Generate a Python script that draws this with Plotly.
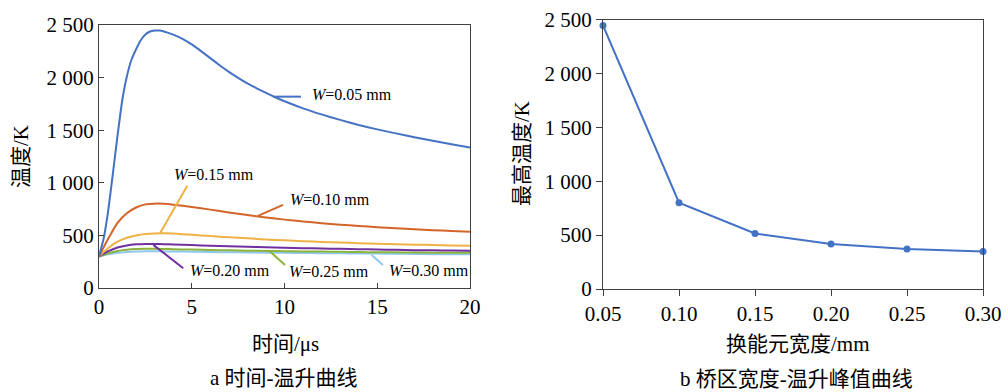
import plotly.graph_objects as go

# ---- data ----
time_us = [0, 0.25, 0.5, 0.75, 1.0, 1.25, 1.5, 1.75, 2.0, 2.25, 2.5, 2.75, 3.0, 3.25, 3.5, 4.0, 4.5, 5.0, 5.5, 6.0,
           6.5, 7.0, 7.5, 8.0, 8.5, 9.0, 9.5, 10, 11, 12, 13, 14, 15, 16, 17, 18, 19, 20]
temp_w005 = [300, 470, 740, 1090, 1450, 1780, 2010, 2170, 2270, 2355, 2410, 2438, 2448, 2447, 2438, 2408, 2368, 2315, 2252, 2185,
             2118, 2055, 1998, 1945, 1898, 1855, 1813, 1775, 1708, 1650, 1598, 1550, 1508, 1470, 1433, 1400, 1367, 1335]

time2_us = [0, 0.5, 1, 1.5, 2, 2.5, 3, 3.5, 4, 5, 6, 7, 8, 9, 10, 11, 12, 13, 14, 15, 16, 17, 18, 19, 20]
temp_w010 = [300, 470, 620, 710, 765, 795, 802, 800, 792, 770, 745, 718, 693, 670, 650, 632, 616, 602, 590, 578, 568, 558, 550, 542, 535]
temp_w015 = [300, 380, 440, 478, 500, 513, 519, 520, 518, 506, 494, 482, 472, 462, 453, 445, 438, 432, 426, 421, 416, 412, 408, 405, 402]
temp_w020 = [300, 350, 385, 405, 415, 419, 419, 417, 414, 408, 402, 397, 392, 387, 383, 379, 376, 372, 369, 366, 363, 360, 358, 356, 354]
temp_w025 = [300, 330, 352, 364, 370, 372, 372, 371, 369, 365, 361, 358, 355, 352, 350, 348, 346, 344, 342, 340, 339, 337, 336, 335, 334]
temp_w030 = [300, 320, 335, 343, 347, 349, 349, 348, 347, 345, 342, 340, 338, 336, 334, 333, 331, 330, 328, 327, 325, 324, 322, 321, 320]

widths_mm = [0.05, 0.10, 0.15, 0.20, 0.25, 0.30]
peak_temp = [2445, 800, 515, 418, 372, 348]

y_tickvals = [0, 500, 1000, 1500, 2000, 2500]
y_ticktext = ["0", "500", "1 000", "1 500", "2 000", "2 500"]
x_ticks_left = [0, 5, 10, 15, 20]
x_ticks_right = [0.05, 0.10, 0.15, 0.20, 0.25, 0.30]
x_ticktext_right = ["0.05", "0.10", "0.15", "0.20", "0.25", "0.30"]

labels = ["<i>W</i>=0.05 mm", "<i>W</i>=0.10 mm", "<i>W</i>=0.15 mm",
          "<i>W</i>=0.20 mm", "<i>W</i>=0.25 mm", "<i>W</i>=0.30 mm"]

colors = ["#4472C4", "#D4652A", "#EDB245", "#7030A0", "#8CB43C", "#8EC8F0"]

SERIF = "Liberation Serif, Times New Roman, Noto Sans CJK SC, serif"
FONT = dict(family=SERIF, size=21, color="black")

W, H = 1008, 392
def px(x):
    return x / W
def py(y):
    return 1 - y / H

fig = go.Figure()

series = [(time_us, temp_w005), (time2_us, temp_w010), (time2_us, temp_w015),
          (time2_us, temp_w020), (time2_us, temp_w025), (time2_us, temp_w030)]
for i in range(5, -1, -1):
    t, T = series[i]
    fig.add_trace(go.Scatter(x=t, y=T, mode="lines", line=dict(color=colors[i], width=2, shape="spline", smoothing=0.5),
                             xaxis="x", yaxis="y", showlegend=False))

fig.add_trace(go.Scatter(x=widths_mm, y=peak_temp, mode="lines+markers",
                         line=dict(color="#4472C4", width=2),
                         marker=dict(color="#4472C4", size=7),
                         xaxis="x2", yaxis="y2", showlegend=False, cliponaxis=False))

axis_common = dict(showgrid=False, zeroline=False, showline=True, linecolor="#404040", linewidth=1,
                   mirror=True, tickfont=FONT, tickcolor="#404040", automargin=False)

fig.update_layout(
    width=W, height=H, margin=dict(l=0, r=0, t=0, b=0, autoexpand=False),
    paper_bgcolor="white", plot_bgcolor="white",
    xaxis=dict(domain=[px(99), px(470)], range=[0, 20], tickvals=x_ticks_left,
               ticks="inside", ticklen=5, anchor="y", **axis_common),
    yaxis=dict(domain=[py(288), py(25)], range=[0, 2500], tickvals=y_tickvals, ticktext=y_ticktext,
               ticks="inside", ticklen=5, anchor="x", **axis_common),
    xaxis2=dict(domain=[px(603), px(983)], range=[0.05, 0.30], tickvals=x_ticks_right, ticktext=x_ticktext_right,
                ticks="outside", ticklen=6, anchor="y2", **axis_common),
    yaxis2=dict(domain=[py(289), py(19.5)], range=[0, 2500], tickvals=y_tickvals, ticktext=y_ticktext,
                ticks="outside", ticklen=6, anchor="x2", **axis_common),
)

# leader lines (data coords) and labels
leaders = [
    (9.38, 1819, 10.89, 1819),
    (8.57, 686, 9.92, 790),
    (3.29, 521, 4.76, 971),
    (2.93, 410, 4.54, 188),
    (9.22, 346, 10.03, 219),
    (14.7, 314, 15.3, 219),
]
label_pos = [
    (11.37, 1838),
    (10.19, 838),
    (3.94, 1076),
    (4.81, 171),
    (10.12, 155),
    (15.51, 171),
]
for i in range(6):
    x0, y0, x1, y1 = leaders[i]
    fig.add_shape(type="line", xref="x", yref="y", x0=x0, y0=y0, x1=x1, y1=y1,
                  line=dict(color=colors[i], width=2))
    lx, ly = label_pos[i]
    fig.add_annotation(x=lx, y=ly, xref="x", yref="y", text=labels[i], showarrow=False,
                       xanchor="left", yanchor="middle", font=dict(family=SERIF, size=16, color="black"))

# axis titles & captions
def ann(text, x, y, angle=0):
    fig.add_annotation(x=px(x), y=py(y), xref="paper", yref="paper", text=text, showarrow=False,
                       xanchor="center", yanchor="middle", textangle=angle, font=FONT)

ann("时间/μs", 285, 344)
ann("a 时间-温升曲线", 284, 378)
ann("温度/K", 21, 157, -90)
ann("换能元宽度/mm", 798, 344)
ann("b 桥区宽度-温升峰值曲线", 796, 379)
ann("最高温度/K", 522, 154, -90)

fig.write_html("out.html", config={"displayModeBar": False},
               post_script="document.body.style.margin='0';document.body.style.padding='0';")
